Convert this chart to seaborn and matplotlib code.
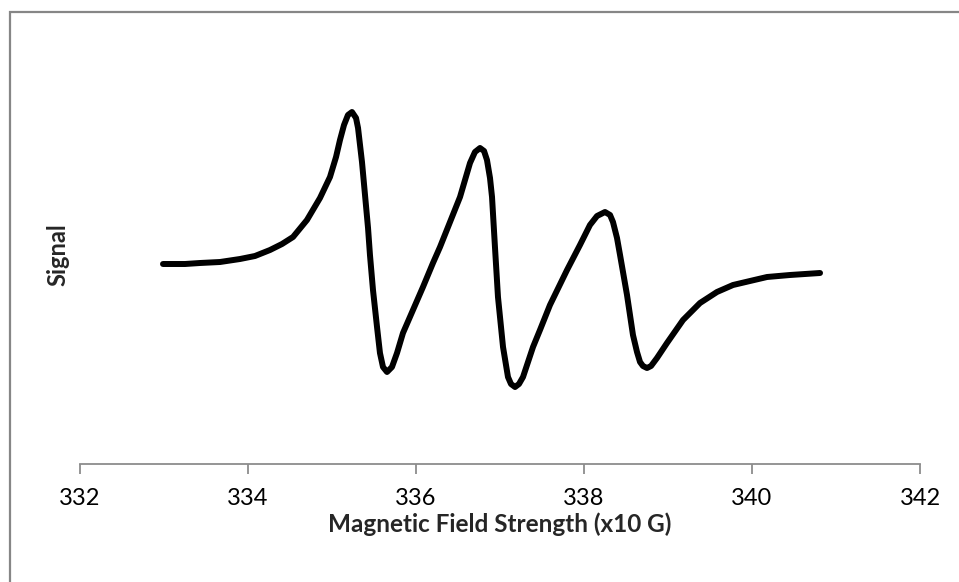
import matplotlib
matplotlib.use("Agg")
import matplotlib.pyplot as plt
import seaborn as sns
import pandas as pd
from matplotlib.patches import Rectangle

field = [332.988, 333.250, 333.429, 333.667, 333.905, 334.083, 334.262, 334.405, 334.536,
         334.702, 334.857, 334.976, 335.048, 335.095, 335.143, 335.190, 335.238, 335.286,
         335.310, 335.357, 335.393, 335.429, 335.452, 335.488, 335.536, 335.571, 335.607,
         335.655, 335.714, 335.774, 335.845, 335.964, 336.083, 336.202, 336.286, 336.405,
         336.524, 336.643, 336.702, 336.762, 336.810, 336.845, 336.881, 336.905, 336.940,
         336.976, 337.036, 337.095, 337.131, 337.179, 337.226, 337.274, 337.393, 337.476,
         337.595, 337.798, 337.952, 338.071, 338.155, 338.250, 338.310, 338.345, 338.393,
         338.429, 338.512, 338.583, 338.631, 338.667, 338.702, 338.750, 338.798, 338.869,
         338.988, 339.179, 339.381, 339.583, 339.774, 339.976, 340.179, 340.452, 340.810]
signal = [0.01, 0.01, 0.02, 0.03, 0.06, 0.09, 0.15, 0.21, 0.28,
          0.45, 0.67, 0.88, 1.08, 1.25, 1.40, 1.50, 1.53, 1.47,
          1.37, 1.03, 0.70, 0.37, 0.10, -0.25, -0.62, -0.88, -1.02,
          -1.07, -1.02, -0.88, -0.68, -0.45, -0.22, 0.02, 0.18, 0.43,
          0.68, 1.02, 1.13, 1.17, 1.14, 1.05, 0.87, 0.68, 0.18,
          -0.32, -0.82, -1.12, -1.19, -1.22, -1.19, -1.12, -0.82, -0.65,
          -0.40, -0.05, 0.20, 0.40, 0.49, 0.53, 0.50, 0.43, 0.27,
          0.10, -0.30, -0.70, -0.87, -0.97, -1.01, -1.03, -1.01, -0.93,
          -0.78, -0.55, -0.38, -0.27, -0.20, -0.16, -0.12, -0.10, -0.08]
x_ticks = [332, 334, 336, 338, 340, 342]

sns.set_style("white")
plt.rcParams['font.family'] = ['Lato', 'DejaVu Sans']

df = pd.DataFrame({"field": field, "signal": signal})

fig = plt.figure(figsize=(9.59, 5.82), dpi=100)
ax = fig.add_axes([80/959, 1-464/582, 840/959, (464-40)/582])
sns.lineplot(data=df, x="field", y="signal", ax=ax, color="black", linewidth=4.3,
             sort=False, estimator=None)
ax.lines[0].set_solid_joinstyle("round")
ax.lines[0].set_solid_capstyle("round")

ax.set_xlim(332, 342)
ax.set_ylim(-1.99, 2.25)
ax.set_xticks(x_ticks)
ax.set_xticklabels([str(t) for t in x_ticks], fontsize=17, color="black")
ax.set_yticks([])
for s in ["top", "right", "left"]:
    ax.spines[s].set_visible(False)
ax.spines["bottom"].set_color("#8c8c8c")
ax.spines["bottom"].set_linewidth(1.3)
ax.tick_params(axis="x", bottom=True, direction="out", length=7, width=1.3,
               color="#8c8c8c", pad=10)
ax.set_xlabel("Magnetic Field Strength (x10 G)", fontsize=17.5, fontweight="bold", labelpad=3)
ax.set_ylabel("Signal", fontsize=17, fontweight="bold")
ax.yaxis.set_label_coords(-11/840, (464-255)/424)

fig.patches.append(Rectangle((9.5/959, -0.1), 1.2, 1 - 11.5/582 + 0.1,
                             transform=fig.transFigure, fill=False,
                             edgecolor="#868686", linewidth=1.6, zorder=-1))

fig.savefig("out.png", dpi=100)
